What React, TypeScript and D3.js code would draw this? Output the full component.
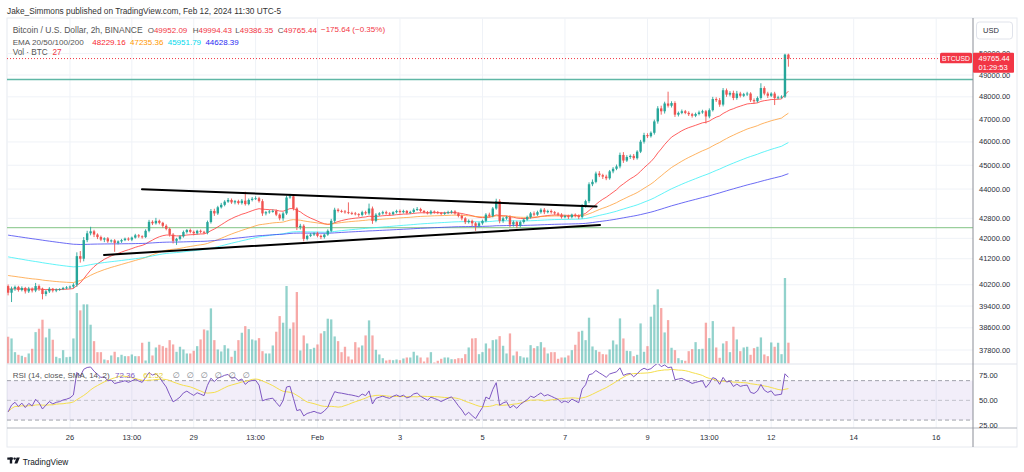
import React, { useMemo } from 'react';
import * as d3 from 'd3';

// ---------- DATA ----------
const open0 = 40150;
const closes = [
  39900, 40050, 40120, 40000, 40080, 39950, 40050, 39980, 40150, 40050,
  39850, 39950, 40050, 39980, 40020, 40040, 40080, 40100, 40130, 40200,
  41300, 41200, 41930, 42200, 42280, 42150, 42050, 41950, 42000, 41880,
  41920, 41820, 41880, 41930, 41990, 41950, 42030, 42120, 42080, 42050,
  42300, 42660, 42600, 42700, 42620, 42500, 42380, 42150, 41900, 41980,
  42080, 42250, 42330, 42260, 42200, 42300, 42260, 42220, 42650, 43100,
  43000, 43250, 43350, 43480, 43550, 43450, 43500, 43420, 43520, 43380,
  43550, 43600, 43620, 43500, 43000, 43050, 43080, 43100, 42950, 42800,
  43000, 43650, 43700, 43200, 42450, 42500, 41980, 42100, 42150, 42200,
  42100, 42050, 42150, 42300, 42700, 43150, 43100, 43080, 43050, 43020,
  43000, 42970, 42940, 43050, 43000, 43200, 42700, 42950, 43000, 43050,
  43000, 42970, 43050, 43100, 43050, 43100, 43020, 43060, 43150, 43180,
  43100, 43050, 43000, 43080, 43050, 43020, 42980, 43020, 43050, 43080,
  43000, 42900, 42800, 42650, 42700, 42600, 42500, 42600, 42700, 42950,
  42900, 43200, 43500, 42700, 42800, 42850, 42550, 42650, 42500, 42650,
  42750, 42850, 43000, 42950, 43050, 43150, 43050, 43100, 43050, 43000,
  42950, 42850, 42900, 42850, 42950, 42900, 42850, 43300, 43500, 44200,
  44300, 44650, 44580, 44520, 44450, 44740, 44850, 44950, 45440, 45200,
  45350, 45400, 45300, 45580, 46010, 46300, 46250, 46400, 46900, 47480,
  47350, 47700, 47600, 47720, 47200, 47280, 47350, 47280, 47220, 47150,
  47230, 47300, 47350, 47120, 47400, 47900, 47850, 47650, 48300, 48100,
  48180, 47950, 48150, 48050, 48120, 48150, 47850, 47800, 47950, 48400,
  48150, 48050, 48150, 47950, 47980, 48010, 49952.09, 49765.44,
];
const wickUp = [
  60, 80, 50, 40, 60, 40, 70, 50, 120, 60,
  40, 50, 60, 30, 40, 30, 40, 50, 40, 60,
  150, 200, 120, 100, 180, 60, 50, 60, 40, 50,
  40, 50, 40, 50, 40, 50, 40, 60, 50, 40,
  60, 80, 60, 120, 50, 40, 60, 50, 60, 40,
  50, 60, 40, 60, 50, 40, 50, 40, 60, 80,
  90, 60, 80, 60, 80, 60, 50, 60, 70, 370,
  60, 70, 80, 60, 80, 50, 60, 60, 60, 50,
  60, 80, 100, 60, 50, 80, 60, 50, 60, 40,
  60, 50, 40, 60, 80, 80, 60, 50, 60, 400,
  50, 60, 40, 60, 60, 200, 80, 60, 50, 60,
  60, 50, 40, 50, 60, 50, 40, 50, 60, 80,
  50, 40, 50, 60, 40, 50, 40, 50, 60, 50,
  50, 40, 60, 50, 60, 50, 60, 60, 50, 60,
  80, 60, 100, 80, 60, 50, 80, 60, 50, 60,
  50, 60, 60, 80, 60, 60, 70, 50, 60, 50,
  50, 60, 40, 50, 40, 50, 60, 80, 60, 80,
  100, 80, 100, 60, 80, 60, 70, 80, 100, 120,
  80, 60, 80, 60, 80, 100, 80, 60, 80, 100,
  120, 80, 535, 80, 80, 60, 80, 60, 70, 60,
  60, 80, 70, 60, 80, 100, 80, 100, 100, 80,
  80, 100, 120, 80, 60, 80, 60, 80, 70, 220,
  80, 80, 60, 80, 70, 60, 40, 42.34,
];
const wickDn = [
  100, 350, 80, 60, 50, 80, 60, 70, 60, 80,
  200, 80, 60, 70, 60, 50, 40, 50, 60, 60,
  80, 150, 100, 80, 80, 100, 80, 60, 100, 60,
  50, 350, 60, 60, 40, 50, 60, 40, 60, 60,
  40, 60, 70, 50, 60, 80, 60, 80, 100, 160,
  60, 50, 60, 60, 80, 50, 60, 50, 60, 60,
  100, 60, 50, 60, 50, 60, 80, 60, 60, 60,
  50, 60, 50, 60, 100, 80, 60, 50, 60, 80,
  100, 60, 50, 80, 120, 100, 100, 60, 50, 60,
  60, 80, 60, 50, 60, 80, 60, 50, 60, 50,
  60, 50, 80, 60, 60, 60, 120, 60, 50, 50,
  50, 60, 40, 50, 60, 50, 60, 40, 50, 50,
  60, 50, 40, 50, 60, 50, 60, 40, 50, 60,
  50, 60, 80, 80, 60, 120, 200, 60, 60, 60,
  60, 60, 50, 100, 80, 60, 100, 80, 100, 60,
  60, 50, 60, 60, 50, 60, 80, 50, 60, 60,
  60, 60, 50, 80, 50, 60, 80, 60, 60, 80,
  80, 60, 80, 100, 80, 60, 80, 60, 80, 100,
  60, 80, 80, 60, 60, 80, 80, 60, 80, 100,
  150, 100, 80, 80, 100, 80, 60, 60, 80, 80,
  60, 60, 60, 310, 80, 60, 80, 100, 80, 100,
  80, 100, 80, 80, 60, 80, 80, 100, 60, 80,
  80, 100, 60, 320, 60, 60, 60, 379.09,
];
const volumes = [
  34.7, 32.5, 14.7, 11.3, 10, 8.2, 13, 19.1, 40.7, 45.1,
  56.8, 33.8, 45.1, 30.8, 8.7, 6.9, 17.3, 8.2, 8.7, 32.5,
  91.4, 68.9, 76.7, 76.7, 50.3, 29, 14.7, 14.7, 5.2, 4.3,
  10.4, 15.2, 8.2, 11.3, 9.5, 9.5, 11.7, 9.5, 9.5, 26.9,
  3.9, 28.2, 10.4, 20.8, 24.3, 22.5, 20.4, 30.3, 24.7, 15.2,
  21.7, 18.2, 13, 13, 16.5, 22.5, 31.2, 44.2, 42.9, 71.5,
  30.3, 18.2, 15.6, 23.8, 19.5, 8.7, 16.5, 30.3, 39.9, 48.5,
  44.6, 31.2, 29.9, 32.9, 16, 13, 13, 23.4, 41.2, 61.5,
  52.9, 100.5, 45.1, 53.3, 92.7, 16.9, 36.4, 26, 18.6, 20.4,
  24.7, 39, 42, 58.1, 57.2, 35.1, 29, 14.7, 21.7, 9.1,
  5.2, 27.7, 20.8, 23.4, 36.4, 55.9, 36.4, 17.8, 11.7, 6.9,
  3.9, 4.8, 4.3, 5.2, 4.3, 6.5, 7.8, 7.8, 15.2, 10.4,
  7.8, 2.6, 7.8, 14.7, 1.3, 3.5, 6.1, 7.8, 7.8, 5.6,
  5.6, 6.9, 6.9, 12.1, 20.8, 32.5, 32.9, 12.1, 14.7, 26,
  19.5, 30.3, 31.2, 35.5, 23, 13, 39, 10.4, 15.6, 9.5,
  7.8, 7.8, 23.8, 19.9, 22.5, 27.7, 20.8, 13, 14.7, 14.7,
  6.1, 7.8, 7.8, 10.4, 17.3, 24.3, 41.2, 42.5, 30.3, 59.4,
  22.1, 17.3, 15.2, 12.1, 11.7, 18.2, 29.9, 24.7, 58.5, 32.5,
  16.5, 16, 9.5, 11.3, 52, 15.2, 22.5, 60.7, 76.3, 96.2,
  71.9, 40.3, 56.3, 20.4, 17.3, 6.9, 4.3, 3.5, 16, 18.6,
  27.7, 18.6, 19.1, 52.9, 32.9, 55, 20.8, 7.4, 26, 29,
  14.7, 47.7, 31.2, 16, 20.8, 21.7, 11.3, 19.9, 21.7, 33.8,
  11.7, 9.5, 27.3, 21.7, 26.9, 12.1, 110.9, 27,
];

const emaPeriods = [20, 50, 100, 200];
const emaStart = [40050, 40580, 41300, 42150];
const emaColors = ['#FF2A2A', '#FF9A2E', '#2EEFF5', '#3B3BF0'];
const emaLegend = ['48229.16', '47235.36', '45951.79', '44628.39'];
const emaLegendColors = ['#F7282F', '#FF9800', '#00D8EC', '#2A2AF2'];

const rsiSeedGain = 38;
const rsiSeedLoss = 42;

const priceTicks = [50000, 49000, 48000, 47000, 46000, 45000, 44000, 42800, 42000, 41200, 40200, 39400, 38600, 37800];
const rsiTicks = [75, 50, 25];
const rsiLevels = [70, 50, 30];

const timeTicks = [
  Date.UTC(2024, 0, 26, 1), Date.UTC(2024, 0, 27, 13), Date.UTC(2024, 0, 29, 1), Date.UTC(2024, 0, 30, 13),
  Date.UTC(2024, 1, 1, 1), Date.UTC(2024, 1, 3, 1), Date.UTC(2024, 1, 5, 1), Date.UTC(2024, 1, 7, 1),
  Date.UTC(2024, 1, 9, 1), Date.UTC(2024, 1, 10, 13), Date.UTC(2024, 1, 12, 1), Date.UTC(2024, 1, 14, 1),
  Date.UTC(2024, 1, 16, 1),
];
const timeLabels = ['26', '13:00', '29', '13:00', 'Feb', '3', '5', '7', '9', '13:00', '12', '14', '16'];

// user drawings: candle index (time) & price
const trendUpper = [{ i: 38.95, p: 43990 }, { i: 171.2, p: 43280 }];
const trendLower = [{ i: 27.9, p: 41345 }, { i: 172.2, p: 42530 }];
const hLevels = [{ p: 48792, color: '#5FB7A6', w: 1.6 }, { p: 42425, color: '#9ACF9C', w: 1.2 }];

const lastPrice = 49765.44;
const countdown = '01:29:53';

const FONT = "'Liberation Sans', Arial, 'DejaVu Sans', sans-serif";

export default function App() {
  const W = 1024, H = 472;
  const L = 7, R = 973, TOP = 18, PB = 364, RB = 428, AXB = 447, RE = 1017;

  const T0 = Date.UTC(2024, 0, 24, 13);
  const STEP = 2 * 3600000;

  const data = useMemo(() => {
    const candles = closes.map((c, i) => {
      const o = i === 0 ? open0 : closes[i - 1];
      return {
        t: T0 + i * STEP, o, c,
        h: Math.max(o, c) + wickUp[i],
        l: Math.min(o, c) - wickDn[i],
        v: volumes[i],
      };
    });
    const emas = emaPeriods.map((n, k) => {
      const a = 2 / (n + 1);
      let e = emaStart[k];
      return closes.map((c) => (e = e + a * (c - e)));
    });
    let ag = rsiSeedGain, al = rsiSeedLoss;
    const rsi = candles.map((d) => {
      const ch = d.c - d.o;
      ag = (ag * 13 + Math.max(ch, 0)) / 14;
      al = (al * 13 + Math.max(-ch, 0)) / 14;
      return 100 - 100 / (1 + ag / al);
    });
    const sma = rsi.map((_, i) => {
      const s = rsi.slice(Math.max(0, i - 13), i + 1);
      return d3.mean(s) as number;
    });
    return { candles, emas, rsi, sma };
  }, []);

  const x = d3.scaleUtc()
    .domain([new Date(T0), new Date(T0 + (closes.length - 1) * STEP)])
    .range([8.1, 788.4]);
  const xi = (i: number) => x(new Date(T0 + i * STEP));
  const y = d3.scaleLog().domain([37800, 49000]).range([350, 75]);
  const vMax = d3.max(volumes) as number;
  const yv = d3.scaleLinear().domain([0, vMax]).range([363.5, 278]);
  const yr = d3.scaleLinear().domain([25, 75]).range([425, 375.7]);

  const emaLine = (arr: number[]) =>
    d3.line<number>().x((_, i) => xi(i)).y((v) => y(v))(arr) as string;
  const rsiLine = (arr: number[]) =>
    d3.line<number>().x((_, i) => xi(i)).y((v) => yr(v))(arr) as string;

  const up = '#26A69A', dn = '#EF5350';
  const grid = '#EFF2F7';
  const textCol = '#2A2E39';
  const legCol = '#555';

  return (
    <svg width={W} height={H} style={{ position: 'absolute', left: 0, top: 0, background: '#fff' }} fontFamily={FONT}>
      <defs>
        <clipPath id="pricePane"><rect x={L} y={TOP} width={R - L} height={PB - TOP} /></clipPath>
        <clipPath id="rsiPane"><rect x={L} y={PB} width={R - L} height={RB - PB} /></clipPath>
      </defs>
      <rect x={0} y={0} width={W} height={H} fill="#fff" />

      {/* header */}
      <text x={7} y={11} fontSize={8.3} fill="#333" dominantBaseline="central">
        Jake_Simmons published on TradingView.com, Feb 12, 2024 11:30 UTC-5
      </text>

      {/* frame */}
      <rect x={L} y={TOP} width={RE - L} height={AXB - TOP} fill="none" stroke="#E6E9EF" strokeWidth={1} />

      {/* grid */}
      {timeTicks.map((t, k) => (
        <line key={'vg' + k} x1={x(new Date(t))} x2={x(new Date(t))} y1={TOP} y2={RB} stroke={grid} strokeWidth={1} />
      ))}
      {priceTicks.map((p, k) => (
        <line key={'hg' + k} x1={L} x2={R} y1={y(p)} y2={y(p)} stroke={grid} strokeWidth={1} />
      ))}

      {/* price pane */}
      <g clipPath="url(#pricePane)">
        {data.candles.map((d, i) => (
          <rect key={'v' + i} x={xi(i) - 1.15} width={2.3} y={yv(d.v)} height={363.5 - yv(d.v)}
            fill={d.c >= d.o ? up : dn} fillOpacity={0.5} />
        ))}
        {hLevels.map((h, k) => (
          <line key={'hl' + k} x1={L} x2={R} y1={y(h.p)} y2={y(h.p)} stroke={h.color} strokeWidth={h.w} />
        ))}
        {data.emas.map((arr, k) => (
          <path key={'ema' + k} d={emaLine(arr)} fill="none" stroke={emaColors[k]} strokeOpacity={0.75} strokeWidth={1} />
        ))}
        {data.candles.map((d, i) => {
          const col = d.c >= d.o ? up : dn;
          const yt = y(Math.max(d.o, d.c)), yb = y(Math.min(d.o, d.c));
          return (
            <g key={'c' + i}>
              <line x1={xi(i)} x2={xi(i)} y1={y(d.h)} y2={y(d.l)} stroke={col} strokeWidth={0.9} />
              <rect x={xi(i) - 1.2} width={2.4} y={yt} height={Math.max(0.9, yb - yt)} fill={col} />
            </g>
          );
        })}
        {[trendUpper, trendLower].map((tl, k) => (
          <line key={'tl' + k} x1={xi(tl[0].i)} y1={y(tl[0].p)} x2={xi(tl[1].i)} y2={y(tl[1].p)}
            stroke="#000" strokeWidth={2} strokeLinecap="round" />
        ))}
        <line x1={L} x2={940} y1={y(lastPrice)} y2={y(lastPrice)} stroke="#F23645" strokeWidth={1} strokeDasharray="1 2" />
      </g>

      {/* pane separator */}
      <line x1={L} x2={RE} y1={PB} y2={PB} stroke="#E0E3EB" strokeWidth={1} />

      {/* RSI pane */}
      <rect x={L} y={yr(70)} width={R - L} height={yr(30) - yr(70)} fill="#7E57C2" fillOpacity={0.1} />
      {rsiLevels.map((lv, k) => (
        <line key={'rl' + k} x1={L} x2={R} y1={yr(lv)} y2={yr(lv)} stroke="#8A8D96"
          strokeOpacity={lv === 50 ? 0.45 : 0.8} strokeWidth={1} strokeDasharray="4 3" />
      ))}
      <g clipPath="url(#rsiPane)">
        <path d={rsiLine(data.sma)} fill="none" stroke="#F5DF4D" strokeWidth={1} />
        <path d={rsiLine(data.rsi)} fill="none" stroke="#7E57C2" strokeWidth={1} />
      </g>

      {/* axes lines */}
      <line x1={L} x2={RE} y1={RB} y2={RB} stroke="#B2B5BE" strokeWidth={1.2} />
      <line x1={R} x2={R} y1={TOP} y2={AXB} stroke="#8A8D96" strokeWidth={1} />

      {/* price axis labels */}
      {priceTicks.map((p, k) => (
        <text key={'pl' + k} x={979} y={y(p)} fontSize={7.5} fill={textCol} dominantBaseline="central">
          {p.toFixed(2)}
        </text>
      ))}
      {rsiTicks.map((r, k) => (
        <text key={'rt' + k} x={979} y={yr(r)} fontSize={7.5} fill={textCol} dominantBaseline="central">
          {r.toFixed(2)}
        </text>
      ))}
      {/* time axis labels */}
      {timeTicks.map((t, k) => (
        <text key={'tt' + k} x={x(new Date(t))} y={437.5} fontSize={7.5} fill={textCol} textAnchor="middle" dominantBaseline="central">
          {timeLabels[k]}
        </text>
      ))}

      {/* USD box */}
      <rect x={976.5} y={22} width={36} height={17} rx={3} fill="#fff" stroke="#E0E3EB" />
      <text x={983} y={30.6} fontSize={7.5} fill={textCol} dominantBaseline="central">USD</text>

      {/* last price labels */}
      <rect x={940} y={52.8} width={32} height={10.5} rx={1.5} fill="#F23645" />
      <text x={956} y={58.2} fontSize={6.8} fill="#fff" textAnchor="middle" dominantBaseline="central">BTCUSD</text>
      <rect x={973} y={52.7} width={41} height={20} rx={1} fill="#F23645" />
      <text x={978.5} y={58.2} fontSize={7.5} fill="#fff" dominantBaseline="central">{lastPrice.toFixed(2)}</text>
      <text x={978.5} y={67.4} fontSize={7.5} fill="#fff" dominantBaseline="central">{countdown}</text>

      {/* legends */}
      <text x={12.7} y={29.7} fontSize={8.5} fill={legCol} dominantBaseline="central">Bitcoin / U.S. Dollar, 2h, BINANCE</text>
      {[['O', '49952.09', 147.7], ['H', '49994.43', 192.7], ['L', '49386.35', 235.3], ['C', '49765.44', 277.7]].map(([k, v, px]) => (
        <text key={'ohlc' + k} x={px as number} y={29.7} fontSize={8} dominantBaseline="central">
          <tspan fill={legCol}>{k}</tspan><tspan fill="#F23645">{v}</tspan>
        </text>
      ))}
      <text x={321} y={29.7} fontSize={8} fill="#F23645" dominantBaseline="central">−175.64 (−0.35%)</text>

      <text x={12.7} y={42} fontSize={8.1} fill={legCol} dominantBaseline="central">EMA 20/50/100/200</text>
      {emaLegend.map((s, k) => (
        <text key={'el' + k} x={92.3 + k * 37.7} y={42} fontSize={8} fill={emaLegendColors[k]} dominantBaseline="central">{s}</text>
      ))}
      <text x={12.7} y={52.7} fontSize={8.2} fill={legCol} dominantBaseline="central">Vol · BTC</text>
      <text x={52.5} y={52.7} fontSize={8.2} fill="#F23645" dominantBaseline="central">27</text>

      <text x={12.7} y={375} fontSize={8} fill={legCol} dominantBaseline="central">RSI (14, close, SMA, 14, 2)</text>
      <text x={115} y={375} fontSize={8} fill="#7E57C2" dominantBaseline="central">72.36</text>
      <text x={143.3} y={375} fontSize={8} fill="#E8CF2E" dominantBaseline="central">61.52</text>
      {[0, 1, 2, 3, 4, 5].map((k) => (
        <text key={'nz' + k} x={172.7 + k * 14} y={375} fontSize={8} fill="#787B86" dominantBaseline="central">∅</text>
      ))}

      {/* TradingView logo */}
      <g fill="#131722">
        <rect x={7.3} y={457.5} width={5.6} height={2.2} />
        <rect x={9.8} y={457.5} width={2.4} height={6} />
        <circle cx={14.6} cy={458.6} r={1.2} />
        <polygon points="16.6,457.5 19.8,457.5 17.4,463.5 14.4,463.5" />
        <text x={22.7} y={461.5} fontSize={8.3} dominantBaseline="central">TradingView</text>
      </g>
    </svg>
  );
}
